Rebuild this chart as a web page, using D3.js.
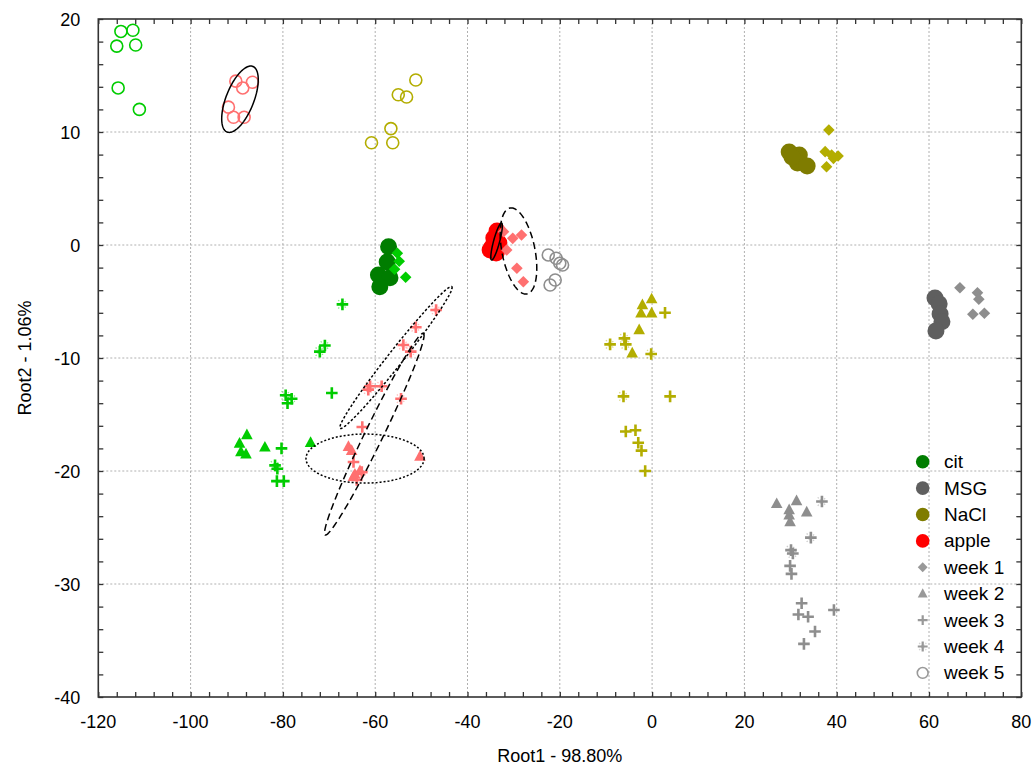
<!DOCTYPE html>
<html><head><meta charset="utf-8">
<script src="https://cdn.jsdelivr.net/npm/d3@7"></script>
<style>
body{margin:0;background:#fff;}
text{font-family:"Liberation Sans",Arial,sans-serif;}
</style></head>
<body>
<svg id="chart" width="1035" height="769"></svg>
<script>
// ---------- data ----------
const xTicks = [-120,-100,-80,-60,-40,-20,0,20,40,60,80];
const yTicks = [-40,-30,-20,-10,0,10,20];
const groups = ["cit","MSG","NaCl","apple"];
const weekNames = ["week 1","week 2","week 3","week 4","week 5"];

// cit
const citMain = [[-57.1,-0.15],[-57.4,-1.5],[-59.3,-2.65],[-56.8,-2.9],[-59.0,-3.7]];
const citW1 = [[-55.2,-0.73],[-54.8,-1.44],[-55.8,-2.14],[-53.4,-2.86]];
const citW2 = [[-87.8,-16.8],[-89.4,-17.55],[-89.1,-18.3],[-88.0,-18.5],[-83.9,-17.9],[-74.0,-17.5]];
const citW3 = [[-69.4,-13.1],[-80.3,-18.0],[-81.2,-19.8],[-81.3,-20.9],[-79.8,-20.9],[-79.0,-14.0]];
const citW4 = [[-67.1,-5.25],[-70.9,-8.9],[-72.0,-9.44],[-79.4,-13.3],[-78.1,-13.6],[-81.7,-19.5]];
const citW5 = [[-115.1,18.9],[-112.5,19.0],[-116.0,17.6],[-111.9,17.7],[-115.7,13.9],[-111.1,12.0]];
// MSG
const msgMain = [[61.3,-4.7],[62.2,-5.2],[62.4,-6.1],[62.8,-6.8],[61.5,-7.6]];
const msgW1 = [[66.7,-3.78],[70.5,-4.22],[70.8,-4.8],[69.5,-6.13],[72.0,-6.04]];
const msgW2 = [[27.0,-22.9],[31.3,-22.65],[33.5,-23.65],[29.7,-23.45],[29.7,-23.9],[29.9,-24.5]];
const msgW3 = [[29.9,-28.4],[30.2,-29.1],[32.4,-31.7],[31.7,-32.7],[33.8,-32.9],[39.4,-32.3],[35.3,-34.2],[32.9,-35.3]];
const msgW4 = [[36.8,-22.7],[34.4,-25.9],[30.1,-27.0],[30.5,-27.3]];
const msgW5 = [[-22.5,-0.88],[-20.8,-1.17],[-20.0,-1.62],[-19.4,-1.77],[-21.0,-3.1],[-22.1,-3.54]];
// NaCl
const naclMain = [[29.7,8.23],[31.9,7.96],[31.5,7.26],[33.6,6.99],[30.3,7.79]];
const naclW1 = [[38.3,10.18],[37.5,8.26],[38.9,7.96],[40.3,7.88],[39.3,7.67],[37.8,6.93]];
const naclW2 = [[-0.1,-4.78],[-2.1,-5.3],[-2.4,-6.04],[-0.1,-6.04],[-2.8,-7.52],[-4.3,-9.58]];
const naclW3 = [[2.8,-6.0],[3.9,-13.4],[-5.7,-16.5],[-3.6,-16.4],[-3.0,-17.5],[-2.3,-18.2],[-1.5,-20.0]];
const naclW4 = [[-6.0,-8.26],[-5.7,-8.79],[-9.1,-8.79],[-0.2,-9.65],[-6.2,-13.4]];
const naclW5 = [[-51.2,14.6],[-55.0,13.3],[-53.2,13.1],[-56.6,10.3],[-60.8,9.05],[-56.2,9.05]];
// apple
const appleMain = [[-33.6,1.24],[-34.3,0.62],[-34.7,-0.18],[-33.8,-0.7],[-33.2,0.18],[-35.1,-0.44]];
const appleW1 = [[-32.2,1.18],[-30.2,0.59],[-28.3,0.88],[-31.5,-0.44],[-29.3,-2.06],[-27.9,-3.25]];
const appleW2 = [[-65.8,-17.85],[-65.1,-18.2],[-64.7,-20.5],[-63.3,-20.0],[-64.4,-20.3],[-50.3,-18.7]];
const appleW3 = [[-62.8,-16.1],[-64.7,-19.2],[-62.9,-20.1],[-64.0,-20.8]];
const appleW4 = [[-46.8,-5.75],[-51.2,-7.28],[-53.9,-8.85],[-52.3,-9.44],[-61.1,-12.5],[-58.6,-12.5],[-61.5,-12.8],[-54.4,-13.6]];
const appleW5 = [[-90.2,14.5],[-86.6,14.4],[-88.7,13.9],[-91.8,12.2],[-90.7,11.3],[-88.4,11.3]];

// confidence ellipses: center, conjugate half-axis vectors (data units)
const ellCenters = [[-89.3,12.9],[-28.95,-0.53],[-33.7,0.31],[-55.5,-9.96],[-60.2,-16.74],[-62.2,-18.9]];
const ellAxisA = [[2.8,2.9],[-1.84,3.8],[1.08,1.64],[12.1,6.27],[10.64,8.92],[12.8,0]];
const ellAxisB = [[2.8,-0.45],[3.51,0.28],[0.63,-0.07],[1.28,-0.41],[1.76,-0.35],[0,2.17]];
const ellStyles = ["solid","dashed","solid","dotfine","dashed","dot"];

// ---------- styling ----------
const mainColors = {cit:"#007d00",MSG:"#5f5f5f",NaCl:"#7f7c00",apple:"#ff0000"};
const weekColors = {cit:"#00cc00",MSG:"#8e8e8e",NaCl:"#b3ad00",apple:"#ff7070"};
const seriesData = {
  cit:[citMain,citW1,citW2,citW3,citW4,citW5],
  MSG:[msgMain,msgW1,msgW2,msgW3,msgW4,msgW5],
  NaCl:[naclMain,naclW1,naclW2,naclW3,naclW4,naclW5],
  apple:[appleMain,appleW1,appleW2,appleW3,appleW4,appleW5]
};

const svg = d3.select("#chart");
const L=98.3,R=1021.3,T=19,B=697;
const x = d3.scaleLinear().domain([-120,80]).range([L,R]);
const y = d3.scaleLinear().domain([-40,20]).range([B,T]);

// grid
const grid = svg.append("g");
xTicks.slice(1,-1).forEach(t=>grid.append("line").attr("x1",x(t)).attr("x2",x(t)).attr("y1",T).attr("y2",B)
  .attr("stroke","#b0b0b0").attr("stroke-width",1).attr("stroke-dasharray","2,2"));
yTicks.slice(1,-1).forEach(t=>grid.append("line").attr("y1",y(t)).attr("y2",y(t)).attr("x1",L).attr("x2",R)
  .attr("stroke","#b0b0b0").attr("stroke-width",1).attr("stroke-dasharray","2,2"));

// axes (inward ticks, minor ticks every 4 in x and 2 in y)
const xMinor = d3.range(-120,80.01,4);
const yMinor = d3.range(-40,20.01,2);
const axB = svg.append("g").attr("transform",`translate(0,${B})`)
  .call(d3.axisBottom(x).tickValues(xMinor).tickSize(-5).tickFormat(""));
const axT = svg.append("g").attr("transform",`translate(0,${T})`)
  .call(d3.axisTop(x).tickValues(xMinor).tickSize(-5).tickFormat(""));
const axL = svg.append("g").attr("transform",`translate(${L},0)`)
  .call(d3.axisLeft(y).tickValues(yMinor).tickSize(-5).tickFormat(""));
const axR = svg.append("g").attr("transform",`translate(${R},0)`)
  .call(d3.axisRight(y).tickValues(yMinor).tickSize(-5).tickFormat(""));
[axB,axT,axL,axR].forEach(a=>{a.select(".domain").remove();a.selectAll("line").attr("stroke","#333").attr("stroke-width",1.3);});

// tick labels
svg.append("g").selectAll("text").data(xTicks).join("text")
  .attr("x",d=>x(d)).attr("y",B+31).attr("text-anchor","middle").attr("font-size",18).attr("fill","#000").text(d=>d);
svg.append("g").selectAll("text").data(yTicks).join("text")
  .attr("x",L-18).attr("y",d=>y(d)+6.5).attr("text-anchor","end").attr("font-size",18).attr("fill","#000").text(d=>d);

// axis titles
svg.append("text").attr("x",(L+R)/2).attr("y",762).attr("text-anchor","middle").attr("font-size",18).text("Root1 - 98.80%");
svg.append("text").attr("transform",`translate(31,${(T+B)/2}) rotate(-90)`).attr("text-anchor","middle").attr("font-size",18).text("Root2 - 1.06%");

// markers
function drawMarker(g, kind, px, py, color, scale=1){
  if(kind==="circle"){
    g.append("circle").attr("cx",px).attr("cy",py).attr("r",8.5*scale).attr("fill",color);
  } else if(kind==="diamond"){
    const s=5.8*scale;
    g.append("path").attr("d",`M${px},${py-s}L${px+s},${py}L${px},${py+s}L${px-s},${py}Z`).attr("fill",color);
  } else if(kind==="triangle"){
    const s=5.8*scale;
    g.append("path").attr("d",`M${px},${py-s*1.1}L${px+s},${py+s*0.75}L${px-s},${py+s*0.75}Z`).attr("fill",color);
  } else if(kind==="plus"||kind==="plusx"){
    const s=5.8*scale;
    if(kind==="plusx"){
      const d=4.2*scale;
      g.append("path").attr("d",`M${px-d},${py-d}L${px+d},${py+d}M${px-d},${py+d}L${px+d},${py-d}`)
        .attr("stroke",color).attr("stroke-width",1.2).attr("stroke-dasharray","1.5,1.5").attr("opacity",0.45);
    }
    g.append("path").attr("d",`M${px-s},${py}L${px+s},${py}M${px},${py-s}L${px},${py+s}`)
      .attr("stroke",color).attr("stroke-width",2.6*scale).attr("fill","none");
  } else if(kind==="open"){
    g.append("circle").attr("cx",px).attr("cy",py).attr("r",6*scale).attr("fill","none")
      .attr("stroke",color).attr("stroke-width",1.6);
  }
}
const kinds = ["circle","diamond","triangle","plus","plusx","open"];
const pts = svg.append("g");
// main circles first
groups.forEach(gname=>{
  seriesData[gname][0].forEach(d=>drawMarker(pts,"circle",x(d[0]),y(d[1]),mainColors[gname]));
});
groups.forEach(gname=>{
  for(let w=1;w<=5;w++){
    seriesData[gname][w].forEach(d=>drawMarker(pts,kinds[w],x(d[0]),y(d[1]),weekColors[gname]));
  }
});

// ellipses
const line = d3.line().curve(d3.curveLinearClosed);
const dashes = {solid:null,dashed:"7,4",dotfine:"2.5,2",dot:"2,2"};
ellCenters.forEach((c,i)=>{
  const a=ellAxisA[i], b=ellAxisB[i];
  const p = d3.range(0,120).map(k=>{
    const t=k/120*2*Math.PI;
    return [x(c[0]+Math.cos(t)*a[0]+Math.sin(t)*b[0]), y(c[1]+Math.cos(t)*a[1]+Math.sin(t)*b[1])];
  });
  svg.append("path").attr("d",line(p)).attr("fill","none").attr("stroke","#000")
    .attr("stroke-width",1.5).attr("stroke-dasharray",dashes[ellStyles[i]]);
});

// frame
svg.append("rect").attr("x",L).attr("y",T).attr("width",R-L).attr("height",B-T)
  .attr("fill","none").attr("stroke","#333").attr("stroke-width",1.6);

// legend
const legLabels = groups.concat(weekNames);
const legKinds = ["circle","circle","circle","circle","diamond","triangle","plus","plusx","open"];
const legColors = groups.map(g=>mainColors[g]).concat(["#999","#999","#999","#999","#999"]);
const legScale = [0.8,0.8,0.8,0.8,0.85,0.85,0.85,0.85,0.9];
const leg = svg.append("g");
legLabels.forEach((lab,i)=>{
  const ly = 461.7 + i*26.4;
  drawMarker(leg,legKinds[i],922.7,ly,legColors[i],legScale[i]);
  leg.append("text").attr("x",944).attr("y",ly+6.5).attr("font-size",19).attr("fill","#000").text(lab);
});
</script>
</body></html>
